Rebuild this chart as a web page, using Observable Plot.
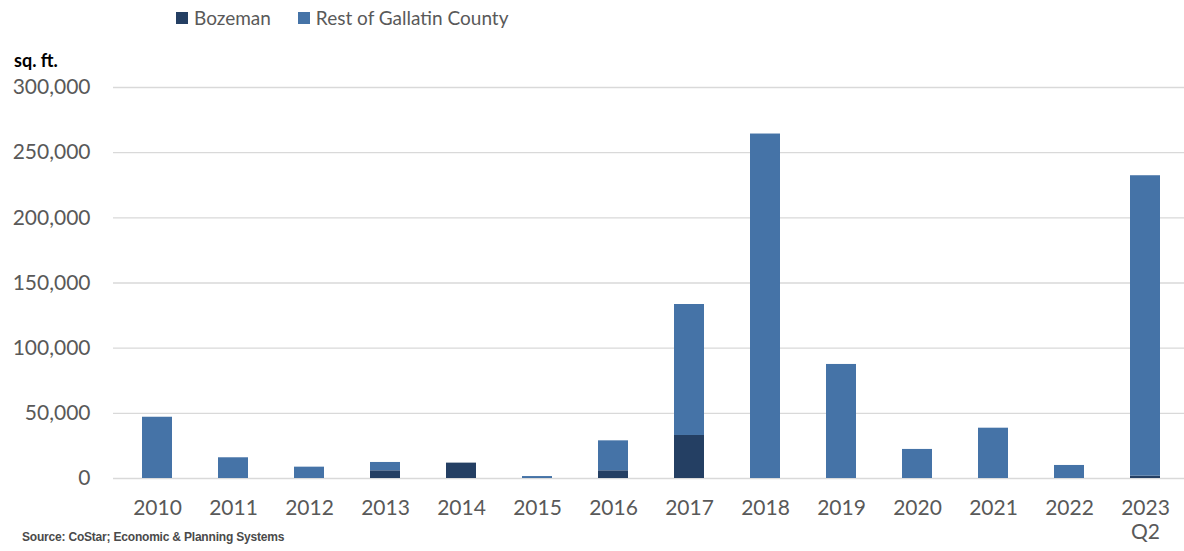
<!DOCTYPE html>
<html>
<head>
<meta charset="utf-8">
<script src="https://cdn.jsdelivr.net/npm/d3@7"></script>
<script src="https://cdn.jsdelivr.net/npm/@observablehq/plot@0.6"></script>
<style>
  html, body { margin: 0; padding: 0; background: #fff; }
  #wrap { position: relative; width: 1184px; height: 551px; overflow: hidden; font-family: Lato, sans-serif; }
  #wrap svg { position: absolute; left: 0; top: 0; }
  .legend { position: absolute; top: 6px; left: 176px; display: flex; align-items: center; font-size: 19px; color: #595959; white-space: nowrap; }
  .legend .sw { display: inline-block; width: 12px; height: 12px; margin-right: 6px; }
  .legend .item { display: flex; align-items: center; margin-right: 27px; }
  .unit { position: absolute; left: 14px; top: 49px; font-size: 18px; font-weight: bold; color: #000; }
  .source { position: absolute; left: 22px; top: 530px; font-family: "Liberation Sans Narrow", "Liberation Sans", sans-serif; font-size: 12px; font-weight: bold; color: #4a4a4a; letter-spacing: -0.2px; }
</style>
</head>
<body>
<div id="wrap"></div>
<script>
const years = ["2010","2011","2012","2013","2014","2015","2016","2017","2018","2019","2020","2021","2022","2023"];
const seriesNames = ["Bozeman", "Rest of Gallatin County"];
const seriesColors = ["#243f63", "#4573a7"];
const bozeman = [0, 0, 0, 5900, 11800, 0, 5900, 33000, 0, 0, 0, 0, 0, 1800];
const restOfCounty = [47000, 15900, 8700, 6400, 0, 1500, 23000, 100500, 264300, 87500, 22300, 38600, 10000, 230500];
const yTicks = [0, 50000, 100000, 150000, 200000, 250000, 300000];
const subLabelYear = "2023";
const subLabel = "Q2";

const rows = [];
years.forEach((y, i) => {
  rows.push({year: y, series: seriesNames[0], value: bozeman[i]});
  rows.push({year: y, series: seriesNames[1], value: restOfCounty[i]});
});

const chart = Plot.plot({
  width: 1184,
  height: 551,
  marginTop: 87,
  marginBottom: 73,
  marginLeft: 113,
  marginRight: 0,
  style: {fontFamily: "Lato, sans-serif", fontSize: "21px", color: "#595959", background: "transparent"},
  x: {domain: years, range: [113, 1190], paddingInner: 0.6, paddingOuter: 0.3, label: null},
  y: {domain: [0, 300000], label: null},
  color: {domain: seriesNames, range: seriesColors},
  marks: [
    Plot.gridY(yTicks, {stroke: "#d9d9d9", strokeOpacity: 1, strokeWidth: 1.3}),
    Plot.barY(rows, {x: "year", y: "value", fill: "series", order: seriesNames}),
    Plot.axisY(yTicks, {tickSize: 0, tickPadding: 23, tickFormat: d3.format(","), fontSize: 21}),
    Plot.axisX({tickSize: 0, tickPadding: 22, fontSize: 21}),
    Plot.text([subLabelYear], {x: d => d, text: () => subLabel, frameAnchor: "bottom", dy: 60, fontSize: 21, fill: "#595959"})
  ]
});

const wrap = document.getElementById("wrap");
wrap.appendChild(chart);

const legend = document.createElement("div");
legend.className = "legend";
seriesNames.forEach((name, i) => {
  const it = document.createElement("div");
  it.className = "item";
  const sw = document.createElement("span");
  sw.className = "sw";
  sw.style.background = seriesColors[i];
  const tx = document.createElement("span");
  tx.textContent = name;
  it.appendChild(sw); it.appendChild(tx);
  legend.appendChild(it);
});
wrap.appendChild(legend);

const unit = document.createElement("div");
unit.className = "unit";
unit.textContent = "sq. ft.";
wrap.appendChild(unit);

const src = document.createElement("div");
src.className = "source";
src.textContent = "Source: CoStar; Economic & Planning Systems";
wrap.appendChild(src);
</script>
</body>
</html>
